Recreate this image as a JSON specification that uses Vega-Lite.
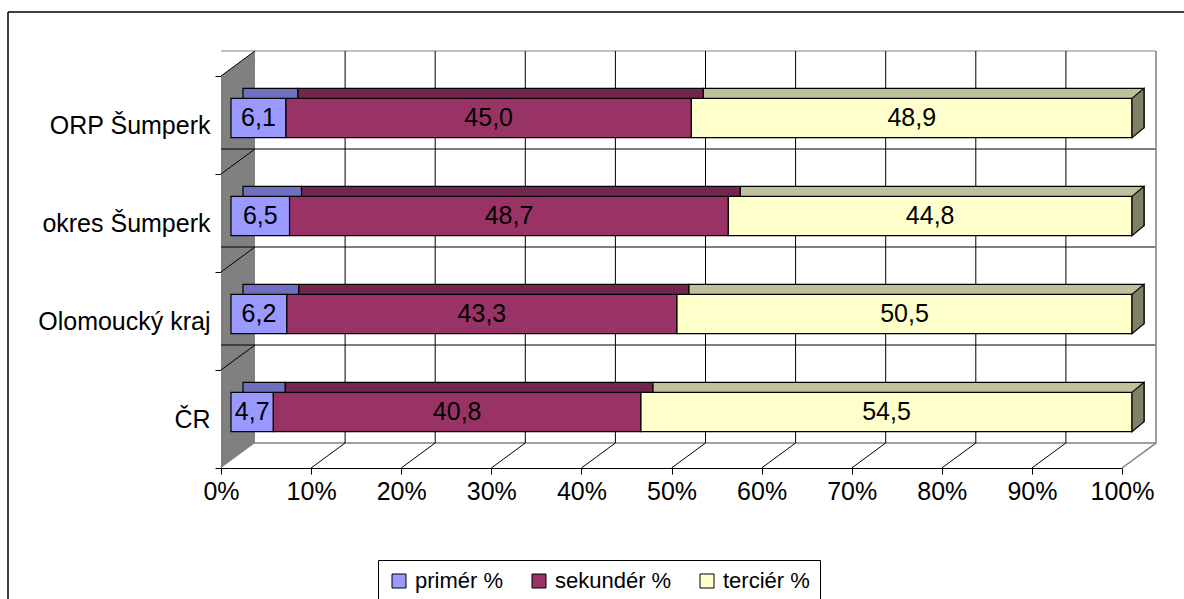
{
  "$schema": "https://vega.github.io/schema/vega-lite/v6.json",
  "autosize": {"type": "none"},
  "padding": {"left": 221, "top": 76, "right": 62, "bottom": 131},
  "width": 901,
  "height": 392,
  "background": "white",
  "config": {
    "font": "Liberation Sans",
    "view": {"stroke": null},
    "locale": {"number": {"decimal": ",", "thousands": " ", "grouping": [3], "currency": ["", " Kč"]}},
    "axis": {"labelColor": "black", "domainColor": "black", "tickColor": "black", "labelFont": "Liberation Sans"}
  },
  "datasets": {
    "bars": [
      {"cat": "ORP Šumperk", "s": "primér %", "o": 1, "v": 6.1},
      {"cat": "ORP Šumperk", "s": "sekundér %", "o": 2, "v": 45.0},
      {"cat": "ORP Šumperk", "s": "terciér %", "o": 3, "v": 48.9},
      {"cat": "okres Šumperk", "s": "primér %", "o": 1, "v": 6.5},
      {"cat": "okres Šumperk", "s": "sekundér %", "o": 2, "v": 48.7},
      {"cat": "okres Šumperk", "s": "terciér %", "o": 3, "v": 44.8},
      {"cat": "Olomoucký kraj", "s": "primér %", "o": 1, "v": 6.2},
      {"cat": "Olomoucký kraj", "s": "sekundér %", "o": 2, "v": 43.3},
      {"cat": "Olomoucký kraj", "s": "terciér %", "o": 3, "v": 50.5},
      {"cat": "ČR", "s": "primér %", "o": 1, "v": 4.7},
      {"cat": "ČR", "s": "sekundér %", "o": 2, "v": 40.8},
      {"cat": "ČR", "s": "terciér %", "o": 3, "v": 54.5}
    ],
    "cats": [
      {"cat": "ORP Šumperk"},
      {"cat": "okres Šumperk"},
      {"cat": "Olomoucký kraj"},
      {"cat": "ČR"}
    ],
    "ticks": [
      {"p": 0.1}, {"p": 0.2}, {"p": 0.3}, {"p": 0.4}, {"p": 0.5},
      {"p": 0.6}, {"p": 0.7}, {"p": 0.8}, {"p": 0.9}, {"p": 1.0}
    ],
    "one": [{"k": 1}]
  },
  "layer": [
    {
      "data": {"name": "one"},
      "mark": {"type": "point", "shape": "M-213,-260H1000M-213,-260V340", "size": 4, "filled": false, "stroke": "black", "strokeWidth": 1.5, "opacity": 1},
      "encoding": {"x": {"datum": 0, "type": "quantitative", "scale": {"domain": [0, 1]}, "axis": {"values": [0, 0.1, 0.2, 0.3, 0.4, 0.5, 0.6, 0.7, 0.8, 0.9, 1], "format": ".0%", "labelFontSize": 25, "labelFlush": false, "labelOverlap": false, "tickSize": 6, "labelPadding": 5, "grid": false, "title": null}}}
    },
    {
      "data": {"name": "one"},
      "mark": {"type": "point", "shape": "M0,-196L34,-221L34,171L0,196Z", "size": 4, "filled": true, "color": "#808080", "strokeWidth": 0, "opacity": 1},
      "encoding": {"x": {"datum": 0, "type": "quantitative"}}
    },
    {
      "data": {"name": "cats"},
      "mark": {"type": "rule", "xOffset": 34, "x2Offset": 34, "yOffset": -25, "strokeWidth": 1},
      "encoding": {
        "y": {"field": "cat", "type": "nominal", "bandPosition": 0, "sort": null,
              "scale": {"domain": ["ORP Šumperk", "okres Šumperk", "Olomoucký kraj", "ČR"], "paddingInner": 0, "paddingOuter": 0},
              "axis": {"tickBand": "extent", "labelFontSize": 25, "labelPadding": 5, "tickSize": 6, "title": null}},
        "color": {"condition": {"test": "datum.cat === 'ORP Šumperk'", "value": "#808080"}, "value": "black"}
      }
    },
    {
      "data": {"name": "cats"},
      "transform": [{"filter": "datum.cat === 'ČR'"}],
      "mark": {"type": "rule", "xOffset": 34, "x2Offset": 34, "yOffset": -25, "strokeWidth": 1.5, "color": "#808080"},
      "encoding": {"y": {"field": "cat", "type": "nominal", "bandPosition": 1}}
    },
    {
      "data": {"name": "cats"},
      "mark": {"type": "point", "shape": "M0,0L34,-25", "size": 4, "filled": false, "stroke": "black", "strokeWidth": 1, "opacity": 1},
      "encoding": {
        "x": {"datum": 0, "type": "quantitative"},
        "y": {"field": "cat", "type": "nominal", "bandPosition": 0}
      }
    },
    {
      "data": {"name": "ticks"},
      "transform": [{"filter": "datum.p < 0.95"}],
      "mark": {"type": "point", "shape": "M0,196L34,171L34,-221", "size": 4, "filled": false, "stroke": "black", "strokeWidth": 1, "opacity": 1},
      "encoding": {"x": {"field": "p", "type": "quantitative"}}
    },
    {
      "data": {"name": "ticks"},
      "transform": [{"filter": "datum.p > 0.95"}],
      "mark": {"type": "point", "shape": "M0,196L34,171L34,-221", "size": 4, "filled": false, "stroke": "#808080", "strokeWidth": 1.5, "opacity": 1},
      "encoding": {"x": {"field": "p", "type": "quantitative"}}
    },
    {
      "data": {"name": "bars"},
      "mark": {"type": "bar", "height": {"band": 0.4}, "xOffset": 22, "x2Offset": 22, "yOffset": -17, "stroke": "black", "strokeWidth": 1.2},
      "encoding": {
        "x": {"field": "v", "type": "quantitative", "stack": "normalize"},
        "y": {"field": "cat", "type": "nominal"},
        "order": {"field": "o"},
        "fill": {"condition": [
          {"test": "datum.s === 'primér %'", "value": "#7070C0"},
          {"test": "datum.s === 'sekundér %'", "value": "#73264D"}
        ], "value": "#C0C09A"}
      }
    },
    {
      "data": {"name": "bars"},
      "mark": {"type": "bar", "height": {"band": 0.4}, "xOffset": 10, "x2Offset": 10, "yOffset": -7, "stroke": "black", "strokeWidth": 1.2, "opacity": 1},
      "encoding": {
        "x": {"field": "v", "type": "quantitative", "stack": "normalize"},
        "y": {"field": "cat", "type": "nominal"},
        "order": {"field": "o"},
        "color": {"field": "s", "type": "nominal",
          "scale": {"domain": ["primér %", "sekundér %", "terciér %"], "range": ["#9999FF", "#993366", "#FFFFCC"]},
          "legend": {"orient": "none", "legendX": 157, "legendY": 484, "direction": "horizontal", "title": null,
            "symbolType": "square", "symbolSize": 196, "symbolStrokeColor": "black", "symbolStrokeWidth": 1,
            "labelFontSize": 22, "labelFont": "Liberation Sans", "labelColor": "black", "labelOffset": 5,
            "columnPadding": 24, "padding": 10, "strokeColor": "black", "fillColor": "white"}}
      }
    },
    {
      "data": {"name": "cats"},
      "mark": {"type": "point", "shape": "M10,-26.6L22,-36.6L22,2.6L10,12.6Z", "size": 4, "filled": true, "fill": "#808066", "stroke": "black", "strokeWidth": 1.2, "opacity": 1},
      "encoding": {
        "x": {"datum": 1, "type": "quantitative"},
        "y": {"field": "cat", "type": "nominal"}
      }
    },
    {
      "data": {"name": "bars"},
      "transform": [
        {"stack": "v", "groupby": ["cat"], "sort": [{"field": "o"}], "offset": "normalize", "as": ["v0", "v1"]},
        {"calculate": "(datum.v0 + datum.v1) / 2", "as": "mid"}
      ],
      "mark": {"type": "text", "xOffset": 10, "yOffset": -7, "fontSize": 25, "font": "Liberation Sans", "color": "black", "baseline": "middle", "align": "center"},
      "encoding": {
        "x": {"field": "mid", "type": "quantitative"},
        "y": {"field": "cat", "type": "nominal"},
        "text": {"field": "v", "type": "quantitative", "format": ".1f"}
      }
    }
  ]
}
